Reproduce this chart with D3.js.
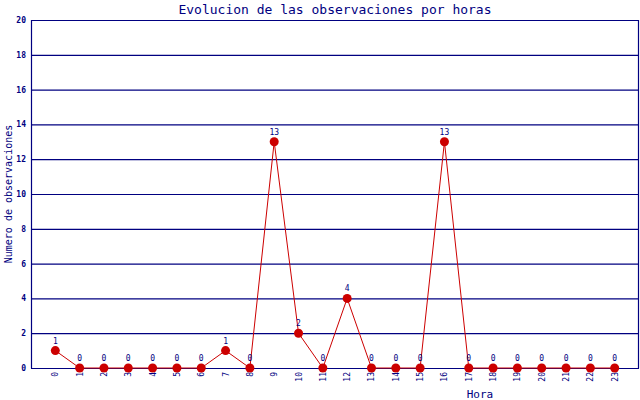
<!DOCTYPE html>
<html>
<head>
<meta charset="utf-8">
<script src="https://d3js.org/d3.v7.min.js"></script>
<style>
  body { margin: 0; background: #fff; }
  text { font-family: "DejaVu Sans Mono", monospace; fill: #000080; }
</style>
</head>
<body>
<script>
var horas = d3.range(0, 24);
var observaciones = [1, 0, 0, 0, 0, 0, 0, 1, 0, 13, 2, 0, 4, 0, 0, 0, 13, 0, 0, 0, 0, 0, 0, 0];
var yTicks = [0, 2, 4, 6, 8, 10, 12, 14, 16, 18, 20];

var width = 640, height = 400;
var plotLeft = 31, plotRight = 639, plotTop = 20, plotBottom = 368;
var navy = "#000080", red = "#cc0000";

var svg = d3.select("body").append("svg")
    .attr("width", width)
    .attr("height", height);

var x = d3.scaleLinear().domain([-1, 24]).range([plotLeft, plotRight]);
var y = d3.scaleLinear().domain([0, 20]).range([plotBottom, plotTop]);

// grid lines
svg.append("g")
  .selectAll("line")
  .data(yTicks)
  .join("line")
    .attr("x1", plotLeft).attr("x2", plotRight)
    .attr("y1", function (d) { return y(d) + 0.5; })
    .attr("y2", function (d) { return y(d) + 0.5; })
    .style("stroke", navy)
    .style("stroke-width", 1.2);

// frame
svg.append("path")
    .attr("d", "M" + (plotLeft + 0.5) + "," + (plotBottom + 0.5) + "V" + (plotTop + 0.5) + "H" + (plotRight - 0.5) + "V" + (plotBottom + 0.5))
    .style("fill", "none")
    .style("stroke", navy)
    .style("stroke-width", 1.2);

// y tick labels
svg.append("g")
  .selectAll("text")
  .data(yTicks)
  .join("text")
    .attr("x", 26)
    .attr("y", function (d) { return y(d) + 3; })
    .attr("text-anchor", "end")
    .style("font-size", "8px")
    .style("font-weight", "bold")
    .text(function (d) { return d; });

// x tick labels
svg.append("g")
  .selectAll("text")
  .data(horas)
  .join("text")
    .attr("transform", function (d) { return "translate(" + (x(d) + 3) + "," + (plotBottom + 4) + ") rotate(-90)"; })
    .attr("text-anchor", "end")
    .style("font-size", "8px")
    .text(function (d) { return d; });

// line
var line = d3.line()
    .x(function (d, i) { return x(horas[i]); })
    .y(function (d) { return y(d); });

svg.append("path")
    .datum(observaciones)
    .attr("d", line)
    .style("fill", "none")
    .style("stroke", red)
    .style("stroke-width", 1);

// markers
svg.append("g")
  .selectAll("circle")
  .data(observaciones)
  .join("circle")
    .attr("cx", function (d, i) { return x(horas[i]); })
    .attr("cy", function (d) { return y(d); })
    .attr("r", 4.5)
    .style("fill", red);

// value labels
svg.append("g")
  .selectAll("text")
  .data(observaciones)
  .join("text")
    .attr("x", function (d, i) { return x(horas[i]); })
    .attr("y", function (d) { return y(d) - 7; })
    .attr("text-anchor", "middle")
    .style("font-size", "8px")
    .text(function (d) { return d; });

// titles
svg.append("text")
    .attr("x", 335)
    .attr("y", 14)
    .attr("text-anchor", "middle")
    .style("font-size", "13px")
    .text("Evolucion de las observaciones por horas");

svg.append("text")
    .attr("transform", "translate(12,194) rotate(-90)")
    .attr("text-anchor", "middle")
    .style("font-size", "10px")
    .text("Numero de observaciones");

svg.append("text")
    .attr("x", 480)
    .attr("y", 398)
    .attr("text-anchor", "middle")
    .style("font-size", "11px")
    .text("Hora");
</script>
</body>
</html>
